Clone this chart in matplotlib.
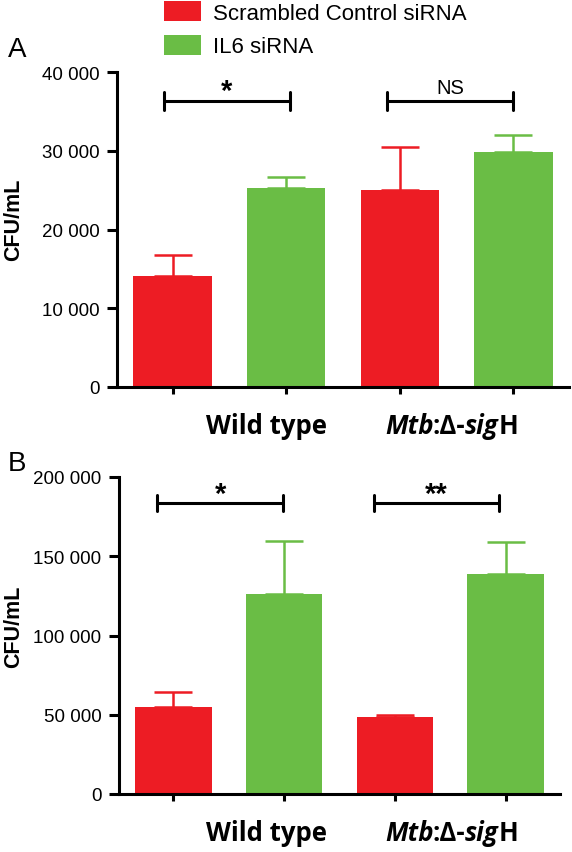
import matplotlib
matplotlib.use("Agg")
import matplotlib.pyplot as plt
from matplotlib.patches import Patch

# ---------------- data ----------------
groups = ["Wild type", "Mtb:Δ-sigH"]
series = ["Scrambled Control siRNA", "IL6 siRNA"]

a_scrambled = [14100, 25000]
a_scrambled_err = [2650, 5500]
a_il6 = [25300, 29800]
a_il6_err = [1350, 2200]
a_sig_labels = ["*", "NS"]

b_scrambled = [55000, 48700]
b_scrambled_err = [9500, 1300]
b_il6 = [126000, 138600]
b_il6_err = [33500, 20300]
b_sig_labels = ["*", "**"]

a_yticks = [0, 10000, 20000, 30000, 40000]
a_yticklabels = ["0", "10 000", "20 000", "30 000", "40 000"]
b_yticks = [0, 50000, 100000, 150000, 200000]
b_yticklabels = ["0", "50 000", "100 000", "150 000", "200 000"]

RED = "#ED1C24"
GREEN = "#6ABD45"

W, H = 572, 853
fig = plt.figure(figsize=(W / 100, H / 100), dpi=100)

def px_axes(l, t, r, b):
    return fig.add_axes([l / W, 1 - b / H, (r - l) / W, (b - t) / H])

TICKFONT = dict(family=["Liberation Sans", "DejaVu Sans"], size=13.5)
LW = 2.2


def panel(ax, scr, scr_err, il6, il6_err, yticks, yticklabels, ymax,
          brackets, bracket_y, cap_h, sig_labels, sig_dy):
    pos_scr = [0, 2]
    pos_il6 = [1, 3]
    bw = 0.69
    ax.bar(pos_scr, scr, width=bw, color=RED, zorder=2)
    ax.bar(pos_il6, il6, width=bw, color=GREEN, zorder=2)
    ax.errorbar(pos_scr, scr, yerr=[[0, 0], scr_err], fmt="none", ecolor=RED,
                elinewidth=1.8, capsize=14, capthick=1.8, zorder=1)
    ax.errorbar(pos_il6, il6, yerr=[[0, 0], il6_err], fmt="none", ecolor=GREEN,
                elinewidth=1.8, capsize=14, capthick=1.8, zorder=1)
    ax.set_xlim(-0.49, 3.49)
    ax.set_ylim(0, ymax)
    ax.set_yticks(yticks)
    ax.set_yticklabels(yticklabels, fontdict=TICKFONT)
    ax.set_xticks([0, 1, 2, 3])
    ax.set_xticklabels([])
    for s in ["top", "right"]:
        ax.spines[s].set_visible(False)
    for s in ["left", "bottom"]:
        ax.spines[s].set_linewidth(LW)
    ax.tick_params(axis="y", length=7.2, width=LW, pad=5.5, direction="out")
    ax.tick_params(axis="x", length=5, width=LW, direction="out")
    for (x0, x1), lab in zip(brackets, sig_labels):
        ax.plot([x0, x1], [bracket_y, bracket_y], color="black", lw=LW,
                solid_capstyle="butt")
        for xx in (x0, x1):
            ax.plot([xx, xx], [bracket_y - cap_h, bracket_y + cap_h],
                    color="black", lw=LW, solid_capstyle="round")
        if lab == "NS":
            ax.text((x0 + x1) / 2, bracket_y + sig_dy * 1.3, lab, ha="center",
                    va="center", family=["Liberation Sans", "DejaVu Sans"],
                    size=14.5)
        else:
            ax.text((x0 + x1) / 2, bracket_y + sig_dy, lab, ha="center",
                    va="center", family=["Liberation Sans", "DejaVu Sans"],
                    size=21, weight="bold")


axA = px_axes(117, 73, 569, 388)
panel(axA, a_scrambled, a_scrambled_err, a_il6, a_il6_err, a_yticks,
      a_yticklabels, 40000, [(-0.08, 1.03), (1.89, 3.0)], 36300, 1100,
      a_sig_labels, 1300)

axB = px_axes(119, 478, 560, 795)
panel(axB, b_scrambled, b_scrambled_err, b_il6, b_il6_err, b_yticks,
      b_yticklabels, 200000, [(-0.145, 0.994), (1.81, 2.94)], 183600, 5200,
      b_sig_labels, 6000)

# y labels
for yc in (220, 627):
    fig.text(14 / W, 1 - yc / H, "CFU/mL", rotation=90, ha="center",
             va="center", family=["Liberation Sans", "DejaVu Sans"],
             size=15.5, weight="bold")

# panel letters
fig.text(17 / W, 1 - 50 / H, "A", ha="center", va="center",
         family=["Liberation Sans", "DejaVu Sans"], size=20)
fig.text(17 / W, 1 - 464 / H, "B", ha="center", va="center",
         family=["Liberation Sans", "DejaVu Sans"], size=20)

# category labels (mixed italic)
CATFONT = ["Open Sans", "DejaVu Sans"]
CAT_SIZE = 18.5


def chain_labels(y_px):
    fig.text(266 / W, 1 - y_px / H, groups[0], ha="center", va="center",
             family=CATFONT, size=CAT_SIZE, weight="bold")
    parts = [("Mtb", "italic", 0), (":Δ-", "normal", -1.0),
             ("sig", "italic", 0), ("H", "normal", 0)]
    t = fig.text(385 / W, 1 - y_px / H, parts[0][0], ha="left",
                 va="center", family=CATFONT, size=CAT_SIZE, weight="bold",
                 style=parts[0][1])
    for txt, st, dx in parts[1:]:
        t = fig.axes[0].annotate(txt, xy=(1, 0), xycoords=t,
                                 xytext=(dx, 0), textcoords="offset points",
                                 ha="left", va="bottom", family=CATFONT,
                                 size=CAT_SIZE, weight="bold", style=st,
                                 annotation_clip=False)


chain_labels(427)
chain_labels(834)

# legend
handles = [Patch(facecolor=RED, edgecolor="none"),
           Patch(facecolor=GREEN, edgecolor="none")]
fig.legend(handles, series, loc="upper left",
           bbox_to_anchor=(164 / W, 1 - 2 / H), frameon=False,
           prop=dict(family=["Liberation Sans", "DejaVu Sans"], size=16),
           handlelength=1.67, handleheight=1.0, handletextpad=0.55,
           labelspacing=0.5, borderpad=0, borderaxespad=0)

fig.savefig("out.png", dpi=100)
